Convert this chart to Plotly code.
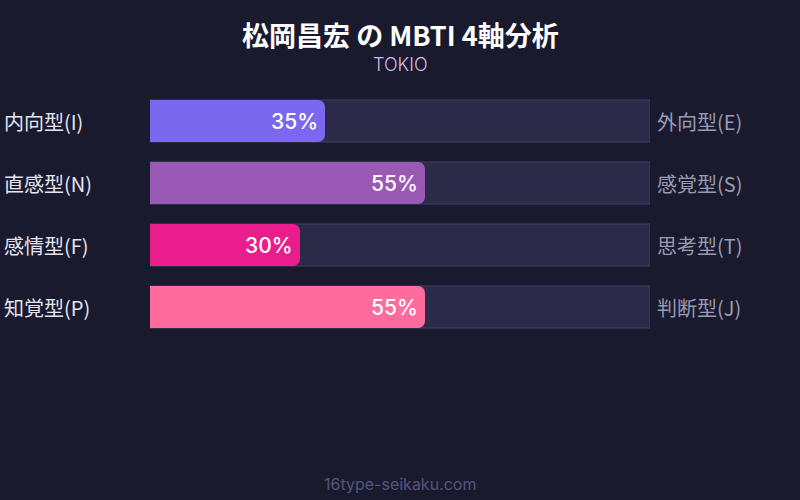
import plotly.graph_objects as go

title = "松岡昌宏 の MBTI 4軸分析"
subtitle = "TOKIO"
footer = "16type-seikaku.com"
left_labels = ["内向型(I)", "直感型(N)", "感情型(F)", "知覚型(P)"]
right_labels = ["外向型(E)", "感覚型(S)", "思考型(T)", "判断型(J)"]
values = [35, 55, 30, 55]
colors = ["#7b68ee", "#9b59b6", "#e91e8c", "#ff6b9d"]

W, H = 800, 500
ML, MR = 150, 150
first_center_px = 121
pitch_px = 62
bar_px = 42

ypos = list(range(len(values)))
units = H / pitch_px
top = -first_center_px / pitch_px
yrange = [top + units, top]
bw = bar_px / pitch_px

fig = go.Figure()
fig.add_trace(go.Bar(
    x=values, y=ypos, orientation="h", width=bw,
    marker=dict(color=colors, line=dict(width=0), cornerradius=7),
    hoverinfo="skip", showlegend=False,
))

shapes = [dict(type="rect", xref="x", yref="y", x0=0, x1=100, y0=i - bw / 2, y1=i + bw / 2,
               fillcolor="#2b2a48", line=dict(color="#414166", width=1), layer="below")
          for i in ypos]

font = "Inter, 'Noto Sans CJK JP', sans-serif"
cjk = "'Noto Sans CJK JP', Inter, sans-serif"
ann = []
for i, (v, l, r) in enumerate(zip(values, left_labels, right_labels)):
    ann.append(dict(x=v, y=i, xref="x", yref="y", text=f"{v}%", showarrow=False,
                    xanchor="right", xshift=-5, font=dict(size=21, color="#ffffff", family=font, weight=500)))
    ann.append(dict(x=(2 - ML) / (W - ML - MR), y=i, xref="paper", yref="y", text=l, showarrow=False,
                    xanchor="left", font=dict(size=20, color="#e4e4f2", family=cjk)))
    ann.append(dict(x=(655 - ML) / (W - ML - MR), y=i, xref="paper", yref="y", text=r, showarrow=False,
                    xanchor="left", font=dict(size=20, color="#9a9ab2", family=cjk)))

ann.append(dict(x=0.5, y=1 - 34 / H, xref="paper", yref="paper", text=f"<b>{title}</b>", showarrow=False,
                xanchor="center", yanchor="middle", font=dict(size=27, color="#ffffff", family=cjk)))
ann.append(dict(x=0.5, y=1 - 64 / H, xref="paper", yref="paper", text=subtitle, showarrow=False,
                xanchor="center", yanchor="middle", font=dict(size=18, color="#dcb6e6", family=font, weight=300)))
ann.append(dict(x=0.5, y=1 - 484 / H, xref="paper", yref="paper", text=footer, showarrow=False,
                xanchor="center", yanchor="middle", font=dict(size=16, color="#55557a", family=font)))

fig.update_layout(
    width=W, height=H,
    margin=dict(l=ML, r=MR, t=0, b=0),
    paper_bgcolor="#1a1a2e", plot_bgcolor="#1a1a2e",
    barcornerradius=7,
    xaxis=dict(range=[0, 100], visible=False, fixedrange=True),
    yaxis=dict(range=yrange, visible=False, fixedrange=True),
    shapes=shapes,
    annotations=ann,
)
fig.write_html("out.html", config={"displayModeBar": False},
               post_script="document.body.style.margin='0';document.body.style.background='#1a1a2e';")
